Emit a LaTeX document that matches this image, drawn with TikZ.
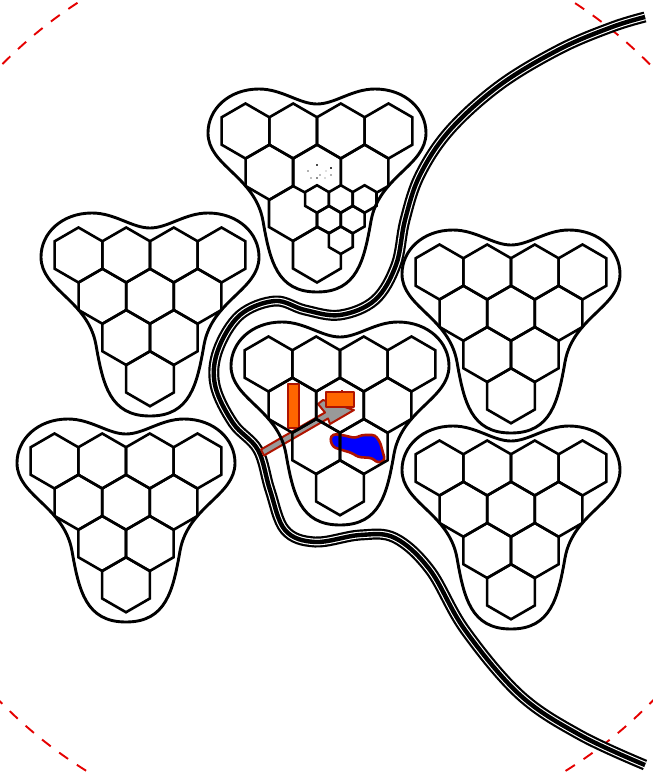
\documentclass[tikz,border=0pt]{standalone}
\usetikzlibrary{calc}

\definecolor{wallred}{RGB}{176,20,0}
\definecolor{fillorange}{RGB}{255,102,0}

\tikzset{
  hexline/.style={line width=2.6pt, black},
  blobline/.style={line width=2.9pt, black},
  wallshape/.style={draw=wallred, line width=2.6pt, line join=round},
  rangeline/.style={red!90!black, line width=1.9pt, dash pattern=on 11pt off 10.5pt}
}

\newcommand{\hexcell}[3]{%
  \draw[hexline] ($(#1,#2)+(30:#3)$) -- ($(#1,#2)+(90:#3)$) -- ($(#1,#2)+(150:#3)$)
    -- ($(#1,#2)+(210:#3)$) -- ($(#1,#2)+(270:#3)$) -- ($(#1,#2)+(330:#3)$) -- cycle;}

\newcommand{\railpath}{plot[smooth, tension=0.6] coordinates {(645,17) (612,27) (560,49) (500,85)
  (450,130) (420,175) (405,220) (396,265) (375,300) (340,315) (305,310) (275,301) (240,315)
  (218,350) (215,385) (233,423) (258,450) (270,490) (285,530) (315,542) (360,535) (395,538)
  (430,570) (465,630) (520,695) (580,735) (645,765)}}

\begin{document}
\begin{tikzpicture}[x=1pt, y=-1pt]

  \useasboundingbox (0,0) rectangle (653,774);
  \clip (0,0) rectangle (653,774);
  \def\R{27.5} % Side of a cell
  \def\r{13.75} % Side of a small cell

  % 1. Dashed range circle
  \draw[rangeline] (326,384) circle (455);

  % 2. Road, black with two white lines in it
  \foreach \w/\c in {11/black, 6.6/white, 4.4/black}
    \draw[line width=\w pt, \c] \railpath;

  % 3. Things inside the middle group, under the cells
  \draw[wallshape, line width=2pt, fill=gray!80] (261,449.5) -- (325,412.5) -- (318,404) -- (323,400) -- (354,410) -- (330,424) -- (328,418.5) -- (264,455.5) -- cycle;
  \draw[wallshape, fill=fillorange] (288,384) rectangle (299,428);
  \draw[wallshape, fill=fillorange] (342,390) -- (342,392) -- (354,392) -- (354,407) -- (326,407) -- (326,392) -- (342,392);
  \draw[wallshape, fill=blue, rounded corners=3pt] (330,439) -- (333,434) -- (342,435) -- (355,438) -- (362,435)
    -- (375,435) -- (380,442) -- (385,460) -- (378,463) -- (372,458) -- (358,457) -- (352,453) -- (342,450) -- (333,447) -- cycle;

  % 4. Outline round each group
  \foreach \cx/\cy in {317/131, 150/255, 126/461, 340/364, 511/272, 511/468}
    \draw[blobline, shift={(\cx,\cy)}] (0,-27) .. controls (18,-27) and (35,-42) .. (58,-42)
      .. controls (88,-42) and (109,-22) .. (109,2)
      .. controls (109,35) and (62,45) .. (54,90)
      .. controls (47,130) and (40,161) .. (0,161)
      .. controls (-40,161) and (-47,130) .. (-54,90)
      .. controls (-62,45) and (-109,35) .. (-109,2)
      .. controls (-109,-22) and (-88,-42) .. (-58,-42)
      .. controls (-35,-42) and (-18,-27) .. (0,-27) -- cycle;

  % 5. Full groups of ten cells
  \foreach \cx/\cy in {150/255, 126/461, 340/364, 511/272, 511/468}
    \foreach \dx/\dy in {-71.5/0, -23.8/0, 23.8/0, 71.5/0, -47.6/41.25, 0/41.25, 47.6/41.25, -23.8/82.5, 23.8/82.5, 0/123.75}
      \hexcell{\cx+\dx}{\cy+\dy}{\R};

  % 6. Top group, some of its cells cut up
  \foreach \dx/\dy in {-71.5/0, -23.8/0, 23.8/0, 71.5/0, -47.6/41.25}
    \hexcell{317+\dx}{131+\dy}{\R};
  \foreach \dx/\dy in {-23.8/68, 0/68, 23.8/68, -11.9/88.6, 11.9/88.6, 0/109.2}
    \hexcell{340.8+\dx}{131+\dy}{\r};
  \draw[hexline] (293,186) -- (293,158.5) -- (317,144.5) -- (340.8,158.5) -- (340.8,186);
  \draw[hexline] (340.8,186) -- (340.8,158.5) -- (364.6,144.5) -- (388.4,158.5) -- (388.4,186) -- (376,193);
  \draw[hexline] (305,192.5) -- (293,186) -- (269,200) -- (269,227) -- (293,241) -- (317,227) -- (317,213);
  \draw[hexline] (329,233) -- (317,227) -- (293,241) -- (293,268.5) -- (317,282.5) -- (340.8,268.5) -- (340.8,254);

  % 7. Faint specks in the cell above
  \foreach \x/\y/\g in {317/165/70, 331/168/75, 308/171/30, 326/171/12, 320/175/25, 331/175/30, 311/178/25, 317/178/45, 325/178/15}
    \fill[black!\g] (\x-1.2,\y-1.2) rectangle (\x+1.2,\y+1.2);

\end{tikzpicture}
\end{document}
